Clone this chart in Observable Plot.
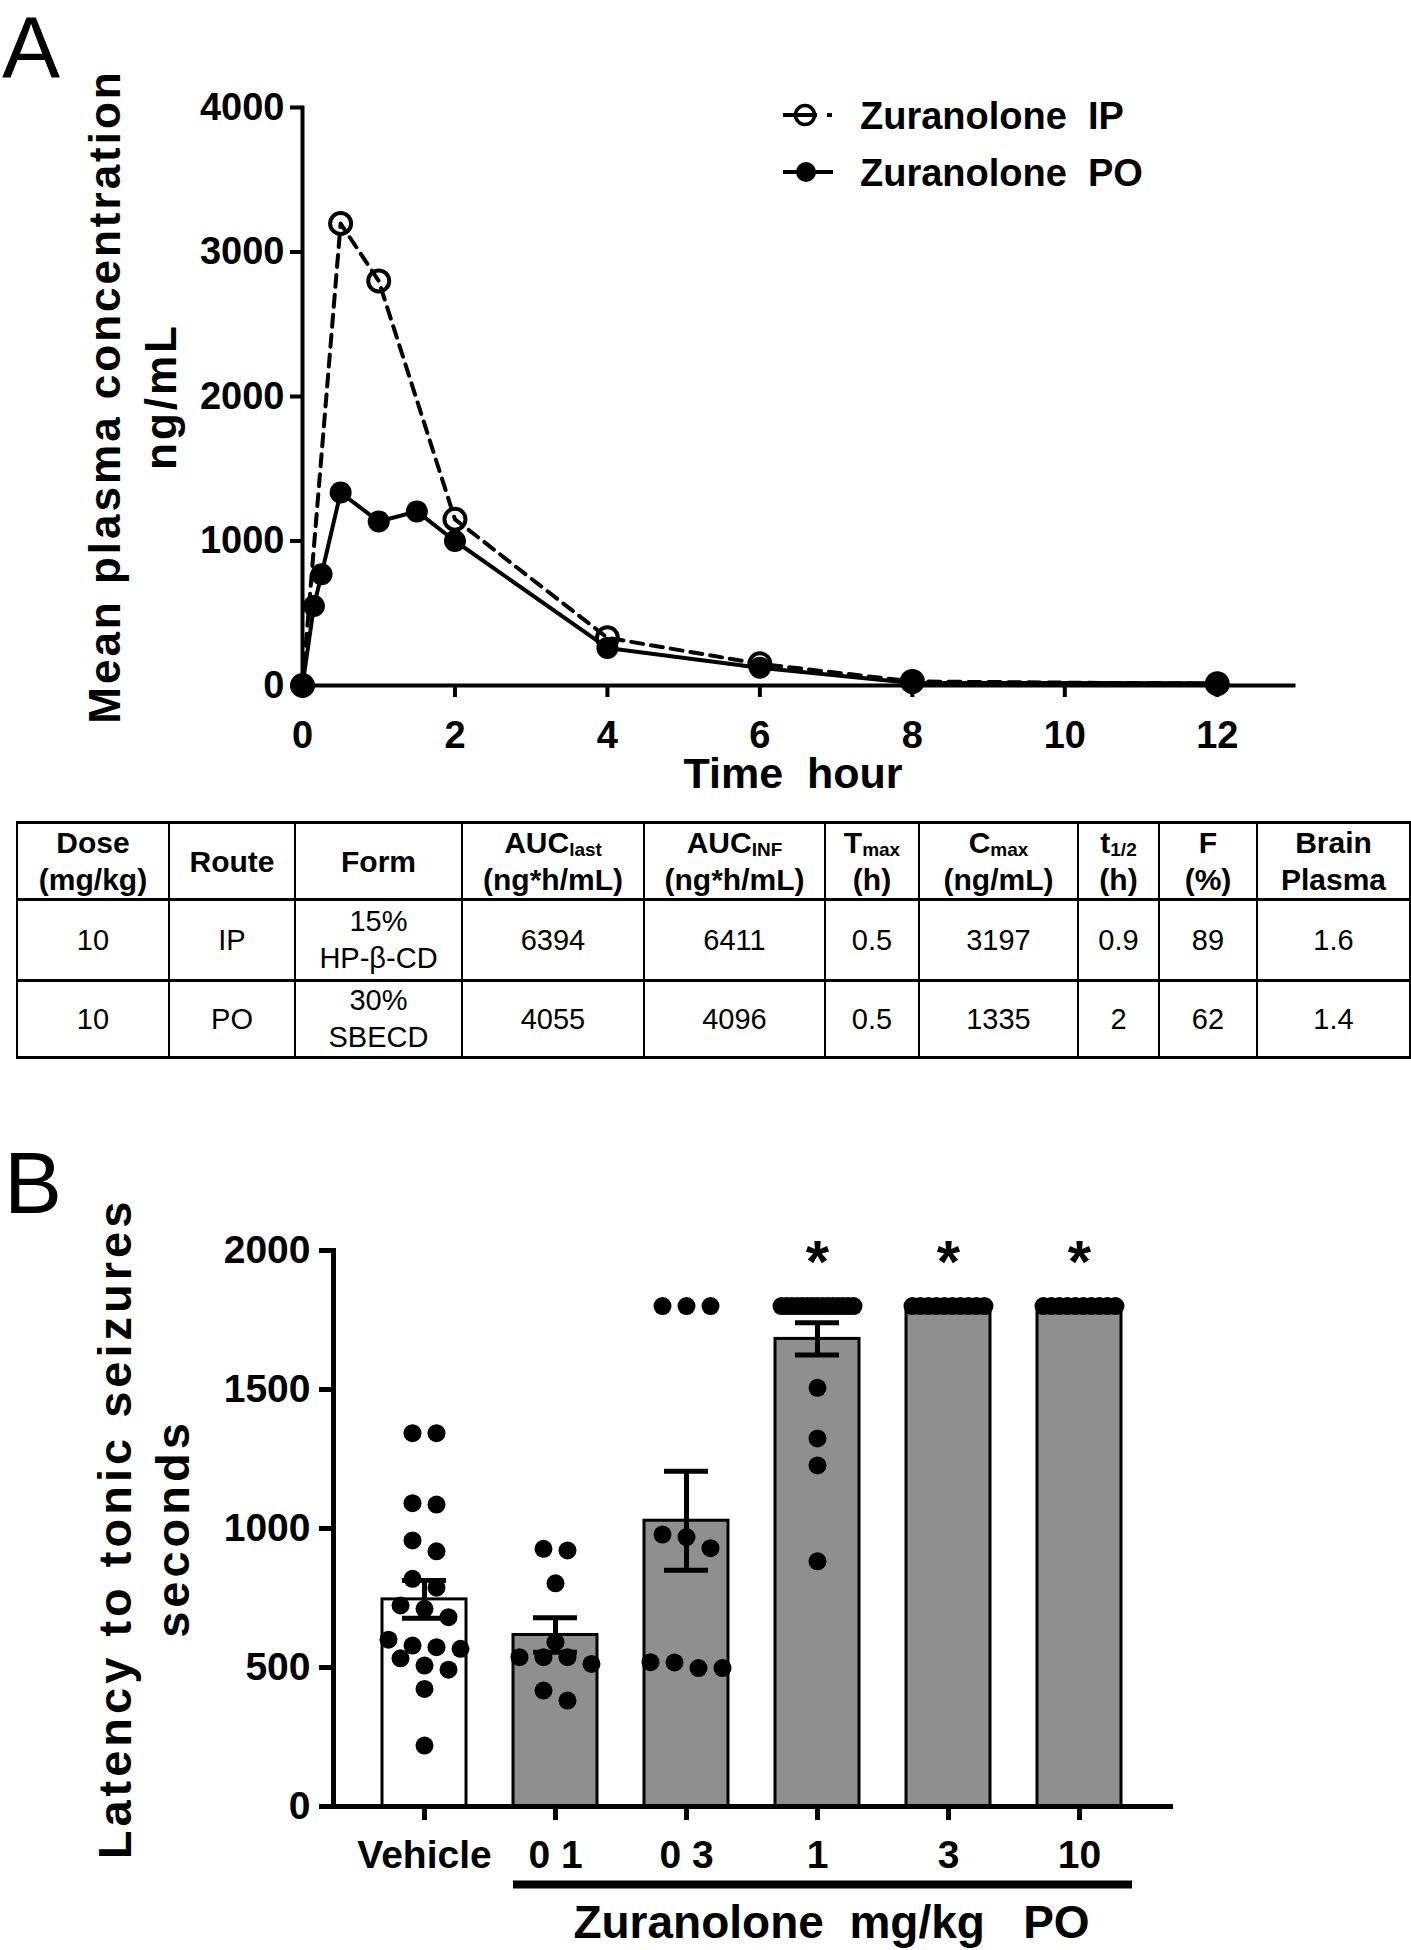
<!DOCTYPE html>
<html>
<head>
<meta charset="utf-8">
<script src="https://cdn.jsdelivr.net/npm/d3@7"></script>
<script src="https://cdn.jsdelivr.net/npm/@observablehq/plot@0.6"></script>
<style>
  html, body { margin: 0; padding: 0; background: #fff; overflow: hidden; }
  body { width: 1411px; height: 1950px; position: relative; font-family: "Liberation Sans", Arial, sans-serif; color: #000; }
  svg text { white-space: pre; }
  .letter { position: absolute; font-family: "Liberation Sans", Arial, sans-serif; font-size: 87px; line-height: 1; font-weight: normal; }
  #chartA { position: absolute; left: 0; top: 0; }
  #chartB { position: absolute; left: 0; top: 1100px; }
  #legend { position: absolute; left: 0; top: 0; }
  table.pk { position: absolute; left: 16px; top: 821px; border-collapse: collapse; table-layout: fixed; width: 1393px; }
  table.pk td, table.pk th { border-left: 2px solid #000; border-right: 2px solid #000; text-align: center; vertical-align: middle; padding: 0; }
  table.pk th { font-weight: bold; font-size: 30px; line-height: 37px; border-top: 3px solid #000; border-bottom: 3px solid #000; height: 73px; }
  table.pk td { font-weight: normal; font-size: 29px; line-height: 37px; border-bottom: 3px solid #000; }
  table.pk tr.r1 td { height: 78px; }
  table.pk tr.r2 td { height: 74px; }
  table.pk sub { font-size: 19px; vertical-align: -3px; line-height: 0; }
</style>
</head>
<body>
<div id="chartA"></div>
<div id="chartB"></div>
<div class="letter" style="left:2px; top:4px;">A</div>
<div class="letter" style="left:4px; top:1139px;">B</div>
<svg id="legend" width="1411" height="220"></svg>
<table class="pk" id="pktable"></table>

<script>
// ---------- Panel A data ----------
const timeIP = [0, 0.5, 1, 2, 4, 6, 8, 12];
const concIP = [0, 3197, 2800, 1150, 330, 150, 28, 12];
const timePO = [0, 0.15, 0.25, 0.5, 1, 1.5, 2, 4, 6, 8, 12];
const concPO = [0, 550, 770, 1335, 1135, 1205, 1000, 260, 123, 18, 15];
const xTicksA = [0, 2, 4, 6, 8, 10, 12];
const yTicksA = [0, 1000, 2000, 3000, 4000];
const seriesNames = ["Zuranolone  IP", "Zuranolone  PO"];
const yLabelA = ["Mean plasma concentration", "ng/mL"];

// ---------- Table data ----------
const colHead1 = ["Dose", "Route", "Form", "AUC", "AUC", "T", "C", "t", "F", "Brain"];
const colHeadSub = ["", "", "", "last", "INF", "max", "max", "1/2", "", ""];
const colHead2 = ["(mg/kg)", "", "", "(ng*h/mL)", "(ng*h/mL)", "(h)", "(ng/mL)", "(h)", "(%)", "Plasma"];
const rowIP = ["10", "IP", "15%\nHP-β-CD", "6394", "6411", "0.5", "3197", "0.9", "89", "1.6"];
const rowPO = ["10", "PO", "30%\nSBECD", "4055", "4096", "0.5", "1335", "2", "62", "1.4"];

// ---------- Panel B data ----------
const groupsB = ["Vehicle", "0 1", "0 3", "1", "3", "10"];
const meanLatency = [745, 617, 1028, 1682, 1800, 1800];
const semLatency = [68, 62, 178, 58, 0, 0];
const dotsVehicle = [1343, 1343, 1091, 1086, 957, 918, 819, 787, 723, 711, 681, 600, 579, 573, 567, 533, 507, 492, 423, 219];
const dots01 = [927, 921, 803, 591, 537, 537, 537, 513, 417, 381];
const dots03 = [1800, 1800, 1800, 978, 969, 929, 519, 518, 498, 498];
const dots1 = [1800, 1800, 1800, 1800, 1800, 1800, 1800, 1800, 1800, 1800, 1800, 1800, 1800, 1800, 1800, 1506, 1324, 1227, 882];
const dots3 = [1800, 1800, 1800, 1800, 1800, 1800, 1800, 1800, 1800, 1800];
const dots10 = [1800, 1800, 1800, 1800, 1800, 1800, 1800, 1800, 1800, 1800];
const sigGroups = ["1", "3", "10"];
const yTicksB = [0, 500, 1000, 1500, 2000];
const yLabelB = ["Latency to tonic seizures", "seconds"];

const FONT = "Liberation Sans, Arial, sans-serif";

// ---------- Panel A ----------
const ipData = timeIP.map((t, i) => ({t, c: concIP[i]}));
const poData = timePO.map((t, i) => ({t, c: concPO[i]}));

const chartA = Plot.plot({
  width: 1411, height: 800,
  marginTop: 107, marginBottom: 115, marginLeft: 302, marginRight: 118,
  x: {domain: [0, 13]},
  y: {domain: [0, 4000]},
  style: {fontFamily: FONT, fontWeight: "bold", color: "black", background: "transparent", overflow: "visible"},
  marks: [
    Plot.frame({anchor: "left", strokeWidth: 4}),
    Plot.frame({anchor: "bottom", strokeWidth: 4}),
    Plot.axisX({ticks: xTicksA, tickSize: 12, tickPadding: 24, strokeWidth: 4, fontSize: 38, fontWeight: "bold", tickFormat: d => String(d), label: null}),
    Plot.axisY({ticks: yTicksA, tickSize: 12, tickPadding: 6, strokeWidth: 4, fontSize: 38, fontWeight: "bold", tickFormat: d => String(d), label: null}),
    Plot.line(ipData, {x: "t", y: "c", strokeWidth: 4, strokeDasharray: "12,8"}),
    Plot.dot(ipData, {x: "t", y: "c", r: 10.5, stroke: "black", strokeWidth: 4, fill: "none"}),
    Plot.line(poData, {x: "t", y: "c", strokeWidth: 4}),
    Plot.dot(poData, {x: "t", y: "c", r: 11, fill: "black", stroke: "none"}),
    Plot.text(["Time  hour"], {frameAnchor: "bottom", textAnchor: "middle", lineAnchor: "middle", dx: -5, dy: 89, fontSize: 43, fontWeight: "bold"}),
    Plot.text([yLabelA[0]], {frameAnchor: "left", textAnchor: "middle", lineAnchor: "middle", rotate: -90, dx: -197, fontSize: 44, fontWeight: "bold"}),
    Plot.text([yLabelA[1]], {frameAnchor: "left", textAnchor: "middle", lineAnchor: "middle", rotate: -90, dx: -141, fontSize: 44, fontWeight: "bold"})
  ]
});
document.getElementById("chartA").appendChild(chartA);

// ---------- Legend ----------
(function () {
  const svg = d3.select("#legend");
  const rows = [115, 172];
  // IP: dashed line with open circle
  svg.append("line").attr("x1", 783).attr("x2", 817).attr("y1", rows[0]).attr("y2", rows[0]).attr("stroke", "black").attr("stroke-width", 4);
  svg.append("line").attr("x1", 827).attr("x2", 832).attr("y1", rows[0]).attr("y2", rows[0]).attr("stroke", "black").attr("stroke-width", 4);
  svg.append("circle").attr("cx", 805).attr("cy", rows[0]).attr("r", 9.5).attr("fill", "none").attr("stroke", "black").attr("stroke-width", 3.5);
  // PO: solid line with filled circle
  svg.append("line").attr("x1", 783).attr("x2", 833).attr("y1", rows[1]).attr("y2", rows[1]).attr("stroke", "black").attr("stroke-width", 4);
  svg.append("circle").attr("cx", 806).attr("cy", rows[1]).attr("r", 10).attr("fill", "black");
  seriesNames.forEach((name, i) => {
    svg.append("text").attr("x", 860).attr("y", rows[i] + 14)
      .attr("font-family", FONT).attr("font-weight", "bold").attr("font-size", 38)
      .text(name);
  });
})();

// ---------- Table ----------
(function () {
  const widths = [152, 126, 167, 182, 181, 94, 159, 81, 98, 153];
  const esc = s => s.replace(/&/g, "&amp;").replace(/</g, "&lt;");
  let html = "<colgroup>" + widths.map(w => `<col style="width:${w}px">`).join("") + "</colgroup>";
  html += "<tr>" + colHead1.map((h, i) => {
    let s = esc(h) + (colHeadSub[i] ? `<sub>${esc(colHeadSub[i])}</sub>` : "");
    if (colHead2[i]) s += "<br>" + esc(colHead2[i]);
    return `<th>${s}</th>`;
  }).join("") + "</tr>";
  [rowIP, rowPO].forEach((row, k) => {
    html += `<tr class="r${k + 1}">` + row.map(v => `<td>${esc(v).replace("\n", "<br>")}</td>`).join("") + "</tr>";
  });
  document.getElementById("pktable").innerHTML = html;
})();

// ---------- Panel B ----------
function swarm(values, threshold = 50, maxSpan = 72, step = 24) {
  const sorted = values.slice().sort((a, b) => b - a);
  const out = [];
  let i = 0;
  while (i < sorted.length) {
    let j = i;
    while (j + 1 < sorted.length && sorted[i] - sorted[j + 1] <= threshold) j++;
    const n = j - i + 1;
    const sp = n > 1 ? Math.min(step, maxSpan / (n - 1)) : 0;
    for (let k = 0; k < n; k++) out.push({v: sorted[i + k], dx: Math.round((k - (n - 1) / 2) * sp * 100) / 100});
    i = j + 1;
  }
  return out;
}
const dotLists = [dotsVehicle, dots01, dots03, dots1, dots3, dots10];
const barData = groupsB.map((g, i) => ({g, mean: meanLatency[i], sem: semLatency[i]}));
const errData = barData.filter(d => d.sem > 0);
const dotRecs = groupsB.flatMap((g, i) => swarm(dotLists[i]).map(d => ({g, ...d})));
const dxValues = [...new Set(dotRecs.map(d => d.dx))];

const chartB = Plot.plot({
  width: 1411, height: 850,
  marginTop: 150, marginBottom: 144, marginLeft: 333, marginRight: 241,
  x: {type: "band", domain: groupsB, padding: 0.355},
  y: {domain: [0, 2000]},
  style: {fontFamily: FONT, fontWeight: "bold", color: "black", background: "transparent", overflow: "visible"},
  marks: [
    Plot.barY(barData.filter(d => d.g === "Vehicle"), {x: "g", y: "mean", fill: "white", stroke: "black", strokeWidth: 3}),
    Plot.barY(barData.filter(d => d.g !== "Vehicle"), {x: "g", y: "mean", fill: "#8f8f8f", stroke: "black", strokeWidth: 3}),
    Plot.ruleX(errData, {x: "g", y1: d => d.mean - d.sem, y2: d => d.mean + d.sem, strokeWidth: 5}),
    Plot.tickY(errData, {x: "g", y: d => d.mean + d.sem, strokeWidth: 5, insetLeft: 20, insetRight: 20}),
    Plot.tickY(errData, {x: "g", y: d => d.mean - d.sem, strokeWidth: 5, insetLeft: 20, insetRight: 20}),
    ...dxValues.map(dx => Plot.dot(dotRecs.filter(d => d.dx === dx), {x: "g", y: "v", r: 9, fill: "black", stroke: "none", dx})),
    Plot.frame({anchor: "left", strokeWidth: 5}),
    Plot.frame({anchor: "bottom", strokeWidth: 5}),
    Plot.axisY({ticks: yTicksB, tickSize: 14, tickPadding: 9, strokeWidth: 5, fontSize: 39, fontWeight: "bold", tickFormat: d => String(d), label: null}),
    Plot.axisX({tickSize: 14, tickPadding: 20, strokeWidth: 5, fontSize: 39, fontWeight: "bold", label: null}),
    Plot.text(sigGroups, {x: d => d, text: () => "*", frameAnchor: "top", textAnchor: "middle", lineAnchor: "middle", fontSize: 60, fontWeight: "bold", dy: 12}),
    Plot.ruleY([0], {x1: () => "0 1", x2: () => "10", dy: 78, strokeWidth: 8, insetRight: -11}),
    Plot.text(["Zuranolone  mg/kg   PO"], {x: () => "1", y: () => 0, dx: 14, dy: 117, fontSize: 46, fontWeight: "bold"}),
    Plot.text([yLabelB[0]], {frameAnchor: "left", textAnchor: "middle", lineAnchor: "middle", rotate: -90, dx: -218, fontSize: 47, fontWeight: "bold"}),
    Plot.text([yLabelB[1]], {frameAnchor: "left", textAnchor: "middle", lineAnchor: "middle", rotate: -90, dx: -160, fontSize: 47, fontWeight: "bold"})
  ]
});
document.getElementById("chartB").appendChild(chartB);

// letter spacing of the rotated axis titles
function spaceLabels(svg, labels, px) {
  svg.querySelectorAll("text").forEach(t => {
    if (labels.includes(t.textContent)) t.setAttribute("letter-spacing", px);
  });
}
spaceLabels(chartA, yLabelA, 3);
spaceLabels(chartB, yLabelB, 4);
</script>
</body>
</html>
